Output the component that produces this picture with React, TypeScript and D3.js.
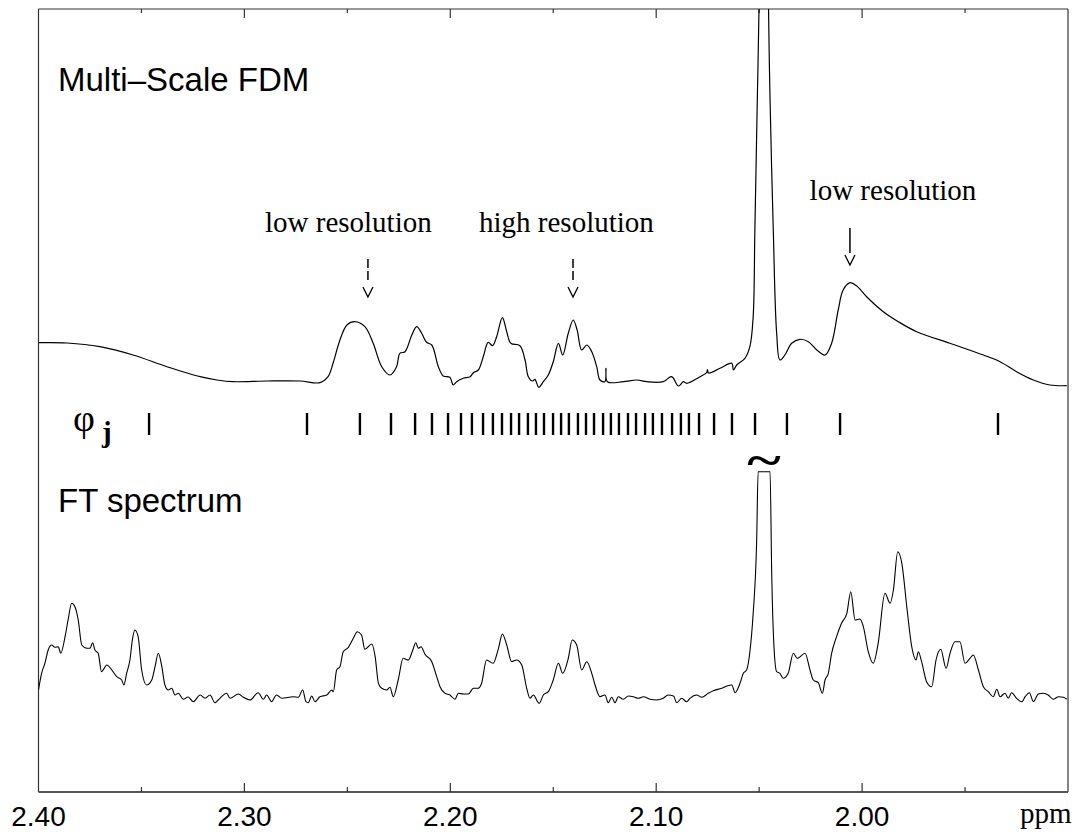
import React from 'react';
import * as d3 from 'd3';

// ---- Data (ppm, amplitude in arbitrary units) ----
const fdmSpectrum: [number, number][] = [
  [2.4, 47.3], [2.3861, 47], [2.3702, 43.3], [2.3541, 35], [2.3376, 23.3], [2.3215, 13.3],
  [2.3133, 10], [2.3056, 8.3], [2.289, 9], [2.273, 9], [2.2633, 7.3], [2.2594, 13.3],
  [2.2569, 27], [2.2536, 50], [2.2502, 65], [2.2463, 68.3], [2.2415, 63.3], [2.2375, 47],
  [2.2333, 23.3], [2.2293, 15], [2.2261, 23.3], [2.2245, 36.7], [2.222, 38.3], [2.2187, 55],
  [2.2163, 63.3], [2.2139, 56.7], [2.2115, 47.7], [2.209, 45], [2.2058, 23.3], [2.2034, 14],
  [2.2002, 12.7], [2.1986, 5], [2.1969, 8.3], [2.1937, 11.7], [2.1904, 13.3], [2.1888, 17.3],
  [2.1864, 20], [2.184, 33.3], [2.1816, 47.7], [2.1795, 44.3], [2.1775, 53.3], [2.1747, 72.3],
  [2.1726, 58.3], [2.1706, 46.7], [2.1662, 44.3], [2.1637, 30], [2.1621, 13.3], [2.16, 9],
  [2.1589, 10.7], [2.157, 2.7], [2.1548, 8.3], [2.1524, 15], [2.15, 28.3], [2.1475, 46.7],
  [2.1454, 35], [2.1427, 56.7], [2.1403, 70], [2.1384, 60], [2.1362, 40], [2.1337, 45],
  [2.1313, 38.3], [2.1289, 23.3], [2.1273, 10], [2.1249, 8.3], [2.1244, 21.7], [2.1237, 8.3],
  [2.116, 8.3], [2.1094, 10], [2.1046, 8.3], [2.0966, 8.3], [2.0925, 13.3], [2.0892, 4],
  [2.0868, 8.3], [2.0852, 6.7], [2.0787, 13.3], [2.0755, 17.3], [2.0751, 20.5], [2.0746, 17],
  [2.069, 21.7], [2.0633, 26.7], [2.0625, 20], [2.0609, 25], [2.0569, 31.7], [2.0545, 43.3],
  [2.0529, 73.3], [2.0521, 157], [2.0509, 290], [2.05, 390], [2.0477, 900], [2.0455, 390],
  [2.0447, 290], [2.0431, 157], [2.0415, 57], [2.0399, 30], [2.0375, 35], [2.0342, 46.7],
  [2.0302, 50.7], [2.0261, 48.3], [2.022, 40], [2.018, 35], [2.0148, 46.7], [2.0116, 80],
  [2.0092, 100], [2.0058, 107.3], [2.0026, 104], [1.9978, 93.3], [1.9897, 78.3], [1.9824, 68.3],
  [1.9735, 58.3], [1.9573, 46.7], [1.9411, 35], [1.933, 28.3], [1.925, 18.3], [1.9168, 10],
  [1.9088, 5], [1.9006, 4.3],
];

const ftSpectrum: [number, number][] = [
  [2.4, 30], [2.3985, 46.7], [2.3969, 56.7], [2.3953, 70], [2.3936, 75], [2.392, 72.7],
  [2.3904, 73.3], [2.3892, 66.7], [2.3871, 83.3], [2.3855, 101.7], [2.3839, 116.7], [2.3823, 113.3],
  [2.3807, 100], [2.379, 75], [2.3766, 71.7], [2.375, 71.7], [2.3737, 77.3], [2.3726, 70],
  [2.371, 66.7], [2.3694, 48.3], [2.3668, 55], [2.3644, 50], [2.362, 43.3], [2.3596, 40],
  [2.3585, 35], [2.3572, 46.7], [2.3556, 60], [2.3543, 81.7], [2.3532, 90], [2.3516, 83.3],
  [2.3499, 50], [2.3475, 35], [2.345, 40], [2.3434, 53.3], [2.3418, 66.7], [2.3401, 53.3],
  [2.3386, 35], [2.337, 30], [2.3353, 31.7], [2.3337, 25], [2.3321, 26.7], [2.3297, 20.7],
  [2.3273, 23], [2.3248, 18.3], [2.3215, 25], [2.3191, 21.7], [2.3167, 25], [2.3143, 17.3],
  [2.3119, 21.7], [2.3086, 26.7], [2.307, 21.7], [2.3029, 26], [2.3005, 22.7], [2.2973, 20],
  [2.2933, 27.3], [2.2908, 20.7], [2.2892, 25], [2.2868, 18.3], [2.2844, 25], [2.2818, 21.7],
  [2.2762, 23.3], [2.2738, 22.7], [2.2717, 30], [2.2701, 18.3], [2.269, 17.3], [2.2673, 24],
  [2.2657, 18.3], [2.2633, 23.3], [2.26, 25], [2.2576, 30], [2.2568, 28.3], [2.2552, 50],
  [2.2536, 53.3], [2.252, 68.3], [2.2495, 72.7], [2.2471, 81.7], [2.2452, 88.3], [2.2431, 85],
  [2.2415, 70.7], [2.2381, 76], [2.2365, 63.3], [2.2349, 36.7], [2.2333, 31.7], [2.2309, 30],
  [2.2293, 32.7], [2.2277, 23.3], [2.2253, 40], [2.2229, 61.7], [2.2204, 60], [2.2182, 70],
  [2.2168, 77.3], [2.2155, 71.7], [2.2142, 73.3], [2.2123, 65.7], [2.209, 58.3], [2.2066, 43.3],
  [2.205, 33.3], [2.2026, 26.7], [2.2002, 25], [2.1977, 20.7], [2.1961, 26.7], [2.1937, 26],
  [2.1912, 26], [2.1888, 31.7], [2.1864, 31.7], [2.1848, 36.7], [2.1824, 60], [2.1792, 56.7],
  [2.1766, 71.7], [2.1747, 86], [2.1726, 75], [2.1702, 58.3], [2.1678, 60], [2.1653, 55],
  [2.1629, 31.7], [2.1613, 21.7], [2.1597, 25], [2.1568, 16.7], [2.1548, 25], [2.1524, 28.3],
  [2.15, 40], [2.1475, 56.7], [2.1454, 46.7], [2.1427, 61.7], [2.1408, 80], [2.1386, 75],
  [2.1362, 50], [2.1337, 58.3], [2.1313, 46.7], [2.1297, 35], [2.1273, 23.3], [2.1249, 25],
  [2.1233, 17.3], [2.1216, 22.7], [2.12, 17.3], [2.1184, 23.3], [2.116, 20.7], [2.1135, 24],
  [2.1111, 23.3], [2.1087, 21.7], [2.1062, 23.3], [2.103, 20.7], [2.0998, 20], [2.0966, 21.7],
  [2.0942, 25], [2.0916, 24], [2.09, 17.3], [2.0876, 21.7], [2.0852, 18.3], [2.0836, 21.7],
  [2.0803, 25], [2.0779, 22.7], [2.0747, 26.7], [2.0723, 29.3], [2.0682, 31.7], [2.0657, 34],
  [2.0633, 35], [2.0617, 27.3], [2.0593, 36.7], [2.0577, 46.7], [2.0561, 50], [2.0545, 68.3],
  [2.0529, 106.7], [2.0512, 180], [2.0505, 260], [2.0476, 700], [2.0447, 260], [2.0439, 146.7],
  [2.0428, 73.3], [2.0415, 48.3], [2.0399, 46.7], [2.0383, 41.7], [2.0359, 46.7], [2.0334, 66.7],
  [2.0315, 61.7], [2.0277, 66.7], [2.0253, 50], [2.0237, 40], [2.0213, 37.3], [2.0193, 26.7],
  [2.018, 40], [2.0164, 46.7], [2.0148, 66.7], [2.0124, 83.3], [2.01, 96.7], [2.0074, 106.7],
  [2.0055, 128.3], [2.0034, 100], [2.001, 101], [1.9994, 93.3], [1.997, 68.3], [1.9946, 56.7],
  [1.9922, 76.7], [1.9889, 126.7], [1.9864, 116.7], [1.9848, 130], [1.9827, 168.3], [1.9807, 156.7],
  [1.9783, 113.3], [1.9759, 73.3], [1.9738, 60], [1.9727, 68.3], [1.9711, 58.3], [1.9687, 38.3],
  [1.9662, 33.3], [1.9641, 60], [1.9618, 70.7], [1.9592, 51.7], [1.9573, 66.7], [1.9549, 78.3],
  [1.9525, 78.3], [1.95, 56.7], [1.9476, 61.7], [1.946, 65], [1.9435, 50], [1.9411, 33.3],
  [1.9387, 28.3], [1.9363, 23.3], [1.9346, 30.7], [1.933, 23.3], [1.9306, 26.7], [1.929, 21.7],
  [1.9274, 27.3], [1.925, 21.7], [1.9224, 18.3], [1.9208, 23.3], [1.9188, 27.3], [1.9168, 18.3],
  [1.9144, 26], [1.912, 26.7], [1.9096, 25], [1.9072, 20.7], [1.9046, 23.3], [1.9022, 22.7],
  [1.9006, 20.7],
];

// truncation level of the FT plot (the big peak is cut off)
const FT_CUTOFF = 248.3;

// basis function positions phi_j (ppm)
const basisPpm = [
  2.3463, 2.2696, 2.2439, 2.2288, 2.2171, 2.2089, 2.2011, 2.1948, 2.1895, 2.1841,
  2.1793, 2.1749, 2.1705, 2.1666, 2.1623, 2.1584, 2.1545, 2.1501, 2.1462, 2.1424,
  2.138, 2.1341, 2.1302, 2.1258, 2.122, 2.1181, 2.1137, 2.1098, 2.1054, 2.1016,
  2.0972, 2.0923, 2.088, 2.0841, 2.0792, 2.0719, 2.0632, 2.052, 2.0365, 2.0107, 1.934,
];

const tickValues = [2.4, 2.35, 2.3, 2.25, 2.2, 2.15, 2.1, 2.05, 2.0, 1.95, 1.9];
const tickLabels = ['2.40', '2.30', '2.20', '2.10', '2.00'];
const majorTicks = [2.4, 2.3, 2.2, 2.1, 2.0];

const annotationLabels = ['low resolution', 'high resolution', 'low resolution'];
const annotationArrowPpm = [2.24, 2.1404, 2.0059];
const annotationLabelPpm = [2.2495, 2.1436, 1.985];

// ---- Layout ----
const W = 1077;
const H = 838;
const X0 = 38.5;
const X1 = 1068;
const YTOP = 9;
const YBOT = 792;

const SANS = '"Liberation Sans", Arial, Helvetica, sans-serif';
const SERIF = '"Liberation Serif", "Times New Roman", Times, serif';

export default function App() {
  const x = d3.scaleLinear().domain([2.4, 1.9]).range([X0, X1]);
  const yTop = d3.scaleLinear().domain([0, 381]).range([390, 9]);
  const yFt = d3.scaleLinear().domain([0, 320]).range([720, 400]);

  const fdmLine = d3
    .line<[number, number]>()
    .x((d) => x(d[0]))
    .y((d) => yTop(d[1]))
    .curve(d3.curveCatmullRom.alpha(0.5));

  const ftLine = d3
    .line<[number, number]>()
    .x((d) => x(d[0]))
    .y((d) => yFt(Math.min(d[1], FT_CUTOFF)))
    .curve(d3.curveMonotoneX);

  const arrowTips = [297, 297, 265];
  const arrowDashed = [true, true, false];
  const labelBaselines = [232, 232, 200];
  const tildeX = x(2.0476);

  return (
    <svg
      width={W}
      height={H}
      style={{ position: 'absolute', left: 0, top: 0, background: '#fff' }}
      xmlns="http://www.w3.org/2000/svg"
    >
      <rect x={0} y={0} width={W} height={H} fill="#fff" />
      <defs>
        <clipPath id="plotClip">
          <rect x={X0} y={YTOP} width={X1 - X0} height={YBOT - YTOP} />
        </clipPath>
      </defs>

      {/* frame */}
      <line x1={X0} y1={YTOP} x2={X1} y2={YTOP} stroke="#333" strokeWidth={1.2} />
      <line x1={X0} y1={YTOP} x2={X0} y2={YBOT} stroke="#333" strokeWidth={1.2} />
      <line x1={X1} y1={YTOP} x2={X1} y2={YBOT} stroke="#333" strokeWidth={1.2} />
      <line x1={X0} y1={YBOT} x2={X1} y2={YBOT} stroke="#555" strokeWidth={2.2} />

      {/* ticks */}
      {tickValues.map((t, i) => {
        const major = majorTicks.some((m) => Math.abs(m - t) < 1e-6);
        const xx = x(t);
        if (xx <= X0 + 0.5 || xx >= X1 - 0.5) return null;
        return (
          <g key={'t' + i}>
            <line x1={xx} x2={xx} y1={YTOP} y2={YTOP + (major ? 9 : 4)} stroke="#333" strokeWidth={1.2} />
            <line x1={xx} x2={xx} y1={YBOT} y2={YBOT - (major ? 9 : 5)} stroke="#333" strokeWidth={1.2} />
          </g>
        );
      })}
      {majorTicks.map((t, i) => (
        <text
          key={'l' + i}
          x={x(t)}
          y={826}
          textAnchor="middle"
          fontFamily={SANS}
          fontSize={28}
          fill="#000"
        >
          {tickLabels[i]}
        </text>
      ))}
      <text x={1020} y={823} fontFamily={SERIF} fontSize={29} fill="#000">
        ppm
      </text>

      {/* panel titles */}
      <text x={58} y={91} fontFamily={SANS} fontSize={33} fill="#000">
        Multi–Scale FDM
      </text>
      <text x={58} y={512} fontFamily={SANS} fontSize={33} fill="#000">
        FT spectrum
      </text>

      {/* curves */}
      <g clipPath="url(#plotClip)">
        <path d={fdmLine(fdmSpectrum) || ''} fill="none" stroke="#000" strokeWidth={1.2} />
        <path d={ftLine(ftSpectrum) || ''} fill="none" stroke="#000" strokeWidth={1.1} />
      </g>

      {/* annotations */}
      {annotationLabels.map((lab, i) => {
        const ax = x(annotationArrowPpm[i]);
        const tip = arrowTips[i];
        return (
          <g key={'a' + i}>
            <text
              x={x(annotationLabelPpm[i])}
              y={labelBaselines[i]}
              textAnchor="middle"
              fontFamily={SERIF}
              fontSize={29}
              fill="#000"
            >
              {lab}
            </text>
            {arrowDashed[i] ? (
              <>
                <line x1={ax} x2={ax} y1={tip - 38} y2={tip - 29} stroke="#000" strokeWidth={1.5} />
                <line x1={ax} x2={ax} y1={tip - 26} y2={tip - 17} stroke="#000" strokeWidth={1.5} />
              </>
            ) : (
              <line x1={ax} x2={ax} y1={tip - 37} y2={tip - 12} stroke="#000" strokeWidth={1.5} />
            )}
            <polyline
              points={`${ax - 5},${tip - 10} ${ax},${tip} ${ax + 5},${tip - 10}`}
              fill="none"
              stroke="#000"
              strokeWidth={1.3}
            />
          </g>
        );
      })}

      {/* basis functions */}
      <text x={73} y={431} fontFamily={SERIF} fontSize={38} fill="#000">
        φ
      </text>
      <text x={102} y={442} fontFamily={SERIF} fontSize={29} fontWeight="bold" fill="#000">
        j
      </text>
      {basisPpm.map((p, i) => (
        <line key={'b' + i} x1={x(p)} x2={x(p)} y1={413} y2={435} stroke="#000" strokeWidth={2.4} />
      ))}

      {/* break mark over truncated FT peak */}
      <text
        transform={`translate(${tildeX},476) scale(1.4,1)`}
        textAnchor="middle"
        fontFamily={SERIF}
        fontSize={46}
        fontWeight="bold"
        fill="#000"
      >
        ~
      </text>
    </svg>
  );
}
